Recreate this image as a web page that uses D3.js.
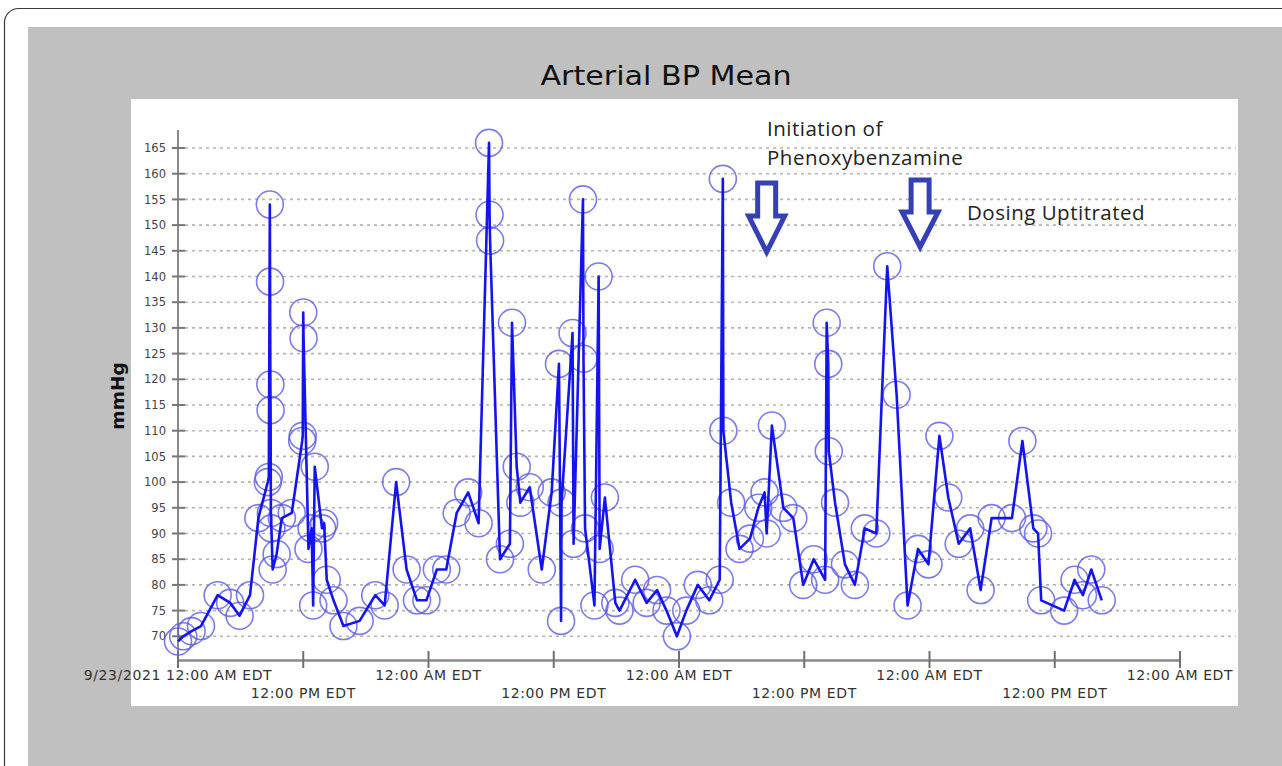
<!DOCTYPE html>
<html>
<head>
<meta charset="utf-8">
<script src="https://cdn.jsdelivr.net/npm/d3@7"></script>
<style>
  html, body { margin: 0; padding: 0; background: #ffffff; }
  svg { display: block; }
</style>
</head>
<body>
<svg id="chart" width="1282" height="766"></svg>
<script>
// ---- data (hours since 9/23/2021 12:00 AM EDT, mmHg) ----
const hours = [0,0.5,1.3,2.2,3.8,5.0,5.9,6.9,7.7,8.6,8.7,8.8,8.82,8.85,8.87,8.9,8.95,9.07,9.45,9.95,
  10.9,11.9,11.95,12.0,12.03,12.5,12.8,12.95,13.1,13.8,14.0,14.25,14.9,15.85,17.4,18.9,19.8,20.9,21.9,22.9,
  23.8,24.8,25.7,26.7,27.8,28.8,29.8,29.85,29.9,30.85,31.8,32.0,32.45,32.8,33.7,34.85,35.8,36.5,36.7,36.75,
  37.8,37.9,38.8,38.85,39.0,39.9,40.3,40.4,40.9,41.9,42.3,43.8,44.9,45.9,46.8,47.8,48.7,49.8,50.9,51.9,
  52.2,52.25,53.0,53.8,54.8,55.6,56.2,56.4,56.9,58.0,58.95,59.9,60.9,62.0,62.15,62.3,62.35,62.95,63.9,64.85,
  65.8,66.9,67.95,68.85,69.9,70.9,71.9,72.95,73.8,74.8,75.9,76.9,77.95,79.9,80.9,81.95,82.4,82.7,84.9,85.9,
  86.7,87.5,88.5];
const values = [69,70,71,72,78,76.5,74,78,93,100,101,154,139,119,114,94,91,83,86,93,
  94,108,109,133,128,87,91,76,103,91,92,81,77,72,73,78,76,100,83,77,
  77,83,83,94,98,92,166,152,147,85,88,131,103,96,99,83,98,123,73,96,
  129,88,155,124,91,76,140,87,97,76.5,75,81,76.5,79,75,70,75,80,77,81,
  159,110,96,87,89,95,98,90,111,95,93,80,85,81,131,123,106,96,84,80,
  91,90,142,117,76,87,84,109,97,88,91,79,93,93,108,91,90,77,75,81,
  78,83,77];
const yTicks = [70,75,80,85,90,95,100,105,110,115,120,125,130,135,140,145,150,155,160,165];
const tickHours = [0,12,24,36,48,60,72,84,96];
const tickLabels = ["9/23/2021 12:00 AM EDT","12:00 PM EDT","12:00 AM EDT","12:00 PM EDT","12:00 AM EDT",
  "12:00 PM EDT","12:00 AM EDT","12:00 PM EDT","12:00 AM EDT"];
const title = "Arterial BP Mean";
const yLabel = "mmHg";
const notes = [
  {lines:["Initiation of","Phenoxybenzamine"], hour: 56.4},
  {lines:["Dosing Uptitrated"], hour: 71.1}
];

// ---- layout ----
const svg = d3.select("#chart");
const t0 = Date.UTC(2021, 8, 23, 4, 0, 0); // 12:00 AM EDT
const toDate = h => new Date(t0 + h * 3600 * 1000);

const x = d3.scaleUtc().domain([toDate(0), toDate(96)]).range([178, 1180]);
const y = d3.scaleLinear().domain([65, 165]).range([662, 148]);

// outer rounded frame
svg.append("rect").attr("x", 4.5).attr("y", 8.5).attr("width", 1300).attr("height", 800)
  .attr("rx", 14).attr("fill", "#ffffff").attr("stroke", "#3a3a3a").attr("stroke-width", 1.2);
// gray panel
svg.append("rect").attr("x", 28).attr("y", 27).attr("width", 1270).attr("height", 760).attr("fill", "#c0c0c0");
// plot white area
svg.append("rect").attr("x", 131).attr("y", 99).attr("width", 1107).attr("height", 607).attr("fill", "#ffffff");

// title
svg.append("text").attr("x", 666).attr("y", 85).attr("text-anchor", "middle")
  .attr("font-family", "DejaVu Sans, sans-serif").attr("font-size", 26).attr("fill", "#111")
  .attr("transform", "translate(666,0) scale(1.16,1) translate(-666,0)")
  .text(title);

// gridlines
svg.append("g").selectAll("line").data(yTicks).join("line")
  .attr("x1", 185).attr("x2", 1236).attr("y1", d => y(d)).attr("y2", d => y(d))
  .attr("stroke", "#b4b4b4").attr("stroke-width", 1.6).attr("stroke-dasharray", "3,4");

// y axis
const yAxis = d3.axisLeft(y).tickValues(yTicks).tickSize(0).tickPadding(12);
const gy = svg.append("g").attr("transform", "translate(178,0)").call(yAxis);
gy.select(".domain").remove();
gy.selectAll("text").attr("font-family", "DejaVu Sans, sans-serif").attr("font-size", 11.5).attr("fill", "#444");
svg.append("line").attr("x1", 178).attr("x2", 178).attr("y1", 130).attr("y2", 662)
  .attr("stroke", "#8a8a8a").attr("stroke-width", 2);
svg.append("g").selectAll("line").data(yTicks).join("line")
  .attr("x1", 172).attr("x2", 185).attr("y1", d => y(d)).attr("y2", d => y(d))
  .attr("stroke", "#777").attr("stroke-width", 2);

// x axis
const xAxis = d3.axisBottom(x).tickValues(tickHours.map(toDate)).tickSize(0).tickFormat(() => "");
const gx = svg.append("g").attr("transform", "translate(0,660)").call(xAxis);
gx.select(".domain").attr("stroke", "#8a8a8a").attr("stroke-width", 2.5);
svg.append("g").selectAll("line").data(tickHours).join("line")
  .attr("x1", d => x(toDate(d))).attr("x2", d => x(toDate(d)))
  .attr("y1", 651).attr("y2", 668).attr("stroke", "#707070").attr("stroke-width", 2);
svg.append("g").selectAll("text").data(tickHours).join("text")
  .attr("x", d => x(toDate(d)))
  .attr("y", (d, i) => i % 2 === 0 ? 680 : 698)
  .attr("text-anchor", "middle")
  .attr("font-family", "DejaVu Sans, sans-serif").attr("font-size", 14).attr("letter-spacing", 0.6).attr("fill", "#333")
  .text((d, i) => tickLabels[i]);

// y label
svg.append("text").attr("transform", "translate(124,396) rotate(-90)")
  .attr("text-anchor", "middle").attr("font-family", "DejaVu Sans, sans-serif")
  .attr("font-weight", "bold").attr("font-size", 18.5).attr("fill", "#111").text(yLabel);

// series
const pts = hours.map((h, i) => ({t: toDate(h), v: values[i]}));
svg.append("g").selectAll("circle").data(pts).join("circle")
  .attr("cx", d => x(d.t)).attr("cy", d => y(d.v)).attr("r", 13.5)
  .attr("fill", "none").attr("stroke", "#5a5ae6").attr("stroke-opacity", 0.8).attr("stroke-width", 1.6);
svg.append("path").datum(pts)
  .attr("d", d3.line().x(d => x(d.t)).y(d => y(d.v)))
  .attr("fill", "none").attr("stroke", "#1414ee").attr("stroke-width", 2.6).attr("stroke-linejoin", "round");

// annotations
const noteFont = {family: "Open Sans, sans-serif", size: 20.5, spacing: 0.5};
function note(tx, ty, s) {
  svg.append("text").attr("x", tx).attr("y", ty).attr("font-family", noteFont.family)
    .attr("font-size", noteFont.size).attr("letter-spacing", noteFont.spacing).attr("fill", "#222").text(s);
}
note(767, 136, notes[0].lines[0]);
note(767, 165, notes[0].lines[1]);
note(967, 220, notes[1].lines[0]);

function arrow(cx, top, wingY, tipY, shaftW, wingW) {
  const p = d3.path();
  p.moveTo(cx - shaftW / 2, top);
  p.lineTo(cx + shaftW / 2, top);
  p.lineTo(cx + shaftW / 2, wingY);
  p.lineTo(cx + wingW / 2, wingY);
  p.lineTo(cx, tipY);
  p.lineTo(cx - wingW / 2, wingY);
  p.lineTo(cx - shaftW / 2, wingY);
  p.closePath();
  svg.append("path").attr("d", p.toString()).attr("fill", "#ffffff")
    .attr("stroke", "#3440b4").attr("stroke-width", 5).attr("stroke-linejoin", "miter");
}
arrow(x(toDate(notes[0].hour)), 183, 216, 252, 18, 36);
arrow(x(toDate(notes[1].hour)), 180, 212, 247, 18, 36);
</script>
</body>
</html>
